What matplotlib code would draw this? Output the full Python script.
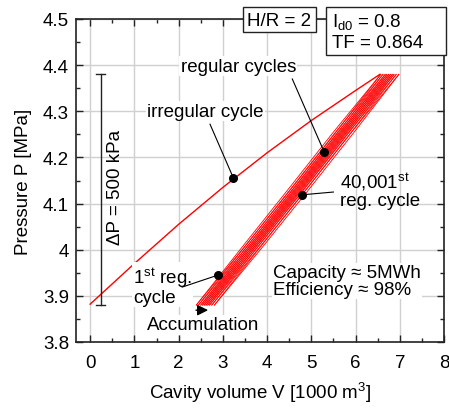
import matplotlib
matplotlib.use("Agg")
import matplotlib.pyplot as plt
from matplotlib.patches import Rectangle
from matplotlib.ticker import MultipleLocator
import numpy as np

plt.rcParams['font.family'] = ['Liberation Sans', 'DejaVu Sans']
plt.rcParams['mathtext.fontset'] = 'custom'
plt.rcParams['mathtext.rm'] = 'Liberation Sans'
plt.rcParams['mathtext.it'] = 'Liberation Sans:italic'
FS = 13.5
plt.rcParams['font.size'] = FS

# ---- data ----
irr_V = [0.0, 1.0, 2.0, 3.0, 4.0, 5.0, 6.0, 6.55]
irr_P = [3.882, 3.970, 4.055, 4.135, 4.210, 4.280, 4.345, 4.380]

# first regular cycle: expansion (down) and compression (up) paths
down_V = [6.57, 5.50, 4.47, 3.43, 2.40]
down_P = [4.38, 4.255, 4.13, 4.005, 3.88]
up_V = [2.40, 3.48, 4.53, 5.56, 6.57]
up_P = [3.88, 4.005, 4.13, 4.255, 4.38]

# shift of each following regular cycle (accumulation)
cycle_shift = [0.00, 0.05, 0.10, 0.14, 0.18, 0.22, 0.26, 0.30, 0.35, 0.41]

dots_V = [3.24, 5.29, 4.79, 2.89]
dots_P = [4.155, 4.212, 4.119, 3.945]

xticks = [0, 1, 2, 3, 4, 5, 6, 7, 8]
yticks = [3.8, 3.9, 4.0, 4.1, 4.2, 4.3, 4.4, 4.5]
yticklabels = ['3.8', '3.9', '4', '4.1', '4.2', '4.3', '4.4', '4.5']

red = '#ff0000'

fig = plt.figure(figsize=(4.49, 4.14), dpi=100)
ax = fig.add_axes([76/449, 1-343/414, 368/449, 323/414])

ax.set_xlim(-0.32, 8.0)
ax.set_ylim(3.8, 4.5)
ax.set_xticks(xticks)
ax.set_yticks(yticks)
ax.set_yticklabels(yticklabels)
ax.xaxis.set_minor_locator(MultipleLocator(0.5))
ax.yaxis.set_minor_locator(MultipleLocator(0.05))
ax.tick_params(which='both', direction='in', top=True, right=True, color='#222222', labelsize=FS)
ax.tick_params(which='major', length=5, width=1)
ax.tick_params(which='minor', length=3, width=1)
ax.tick_params(axis='x', pad=9)
ax.tick_params(axis='y', pad=5)
ax.grid(True, which='major', color='#d0d0d0', lw=1)
ax.set_axisbelow(True)
for s in ax.spines.values():
    s.set_color('#222222')
    s.set_linewidth(1.2)

ax.set_xlabel('Cavity volume V [1000 m$^3$]', fontsize=FS, labelpad=6)
ax.set_ylabel('Pressure P [MPa]', fontsize=FS, labelpad=8)

# irregular cycle
ax.plot(irr_V, irr_P, color=red, lw=1.0, zorder=3)

# regular cycles
for sh in cycle_shift:
    ax.plot(np.array(down_V) + sh, down_P, color=red, lw=0.6, zorder=3)
    ax.plot(np.array(up_V) + sh, up_P, color=red, lw=0.6, zorder=3)

# dots
ax.scatter(dots_V, dots_P, s=30, color='black', zorder=6)

white = dict(facecolor='white', edgecolor='none', pad=1)

# leaders
ax.plot([2.71, 3.24], [4.272, 4.155], color='black', lw=0.8, zorder=5)
ax.plot([4.57, 5.29], [4.370, 4.212], color='black', lw=0.8, zorder=5)
ax.plot([4.79, 5.50], [4.119, 4.125], color='black', lw=0.8, zorder=5)
ax.plot([2.08, 2.89], [3.919, 3.945], color='black', lw=0.8, zorder=5)

ax.text(2.60, 4.300, 'irregular cycle', ha='center', va='center', bbox=white, zorder=4)
ax.text(3.35, 4.398, 'regular cycles', ha='center', va='center', bbox=white, zorder=4)
ax.text(5.66, 4.129, '40,001$^{\\mathrm{st}}$\nreg. cycle', ha='left', va='center',
        linespacing=1.0, zorder=4)
ax.text(0.97, 3.923, '1$^{\\mathrm{st}}$ reg.\ncycle', ha='left', va='center',
        linespacing=1.0, bbox=white, zorder=4)
ax.text(2.56, 3.837, 'Accumulation', ha='center', va='center', bbox=white, zorder=4)
ax.annotate('', xy=(2.73, 3.869), xytext=(2.33, 3.869),
            arrowprops=dict(arrowstyle='-|>', color='black', lw=1.0, mutation_scale=16), zorder=5)
ax.text(4.14, 3.932, 'Capacity \u2248 5MWh\nEfficiency \u2248 98%', ha='left', va='center',
        linespacing=1.0, bbox=white, zorder=4)

# Delta P bracket
ax.plot([0.24, 0.24], [3.88, 4.38], color='#222222', lw=1.0, zorder=4)
ax.plot([0.14, 0.34], [3.88, 3.88], color='#222222', lw=1.0, zorder=4)
ax.plot([0.14, 0.34], [4.38, 4.38], color='#222222', lw=1.0, zorder=4)
ax.text(0.57, 4.138, '\u0394P = 500 kPa', rotation=90, ha='center', va='center', zorder=4)

# boxes at top
fig.patches.append(Rectangle((243/449, 1-33/414), 73/449, 25/414, transform=fig.transFigure,
                             facecolor='white', edgecolor='#222222', lw=1.0, zorder=10))
fig.text(279.5/449, 1-21/414, 'H/R = 2', ha='center', va='center', zorder=11)
fig.patches.append(Rectangle((326/449, 1-56/414), 120/449, 48/414, transform=fig.transFigure,
                             facecolor='white', edgecolor='#222222', lw=1.0, zorder=10))
fig.text(332/449, 1-22/414, 'I$_{\\mathrm{d0}}$ = 0.8', ha='left', va='center', zorder=11)
fig.text(332/449, 1-43/414, 'TF = 0.864', ha='left', va='center', zorder=11)

fig.savefig('out.png', dpi=100)
